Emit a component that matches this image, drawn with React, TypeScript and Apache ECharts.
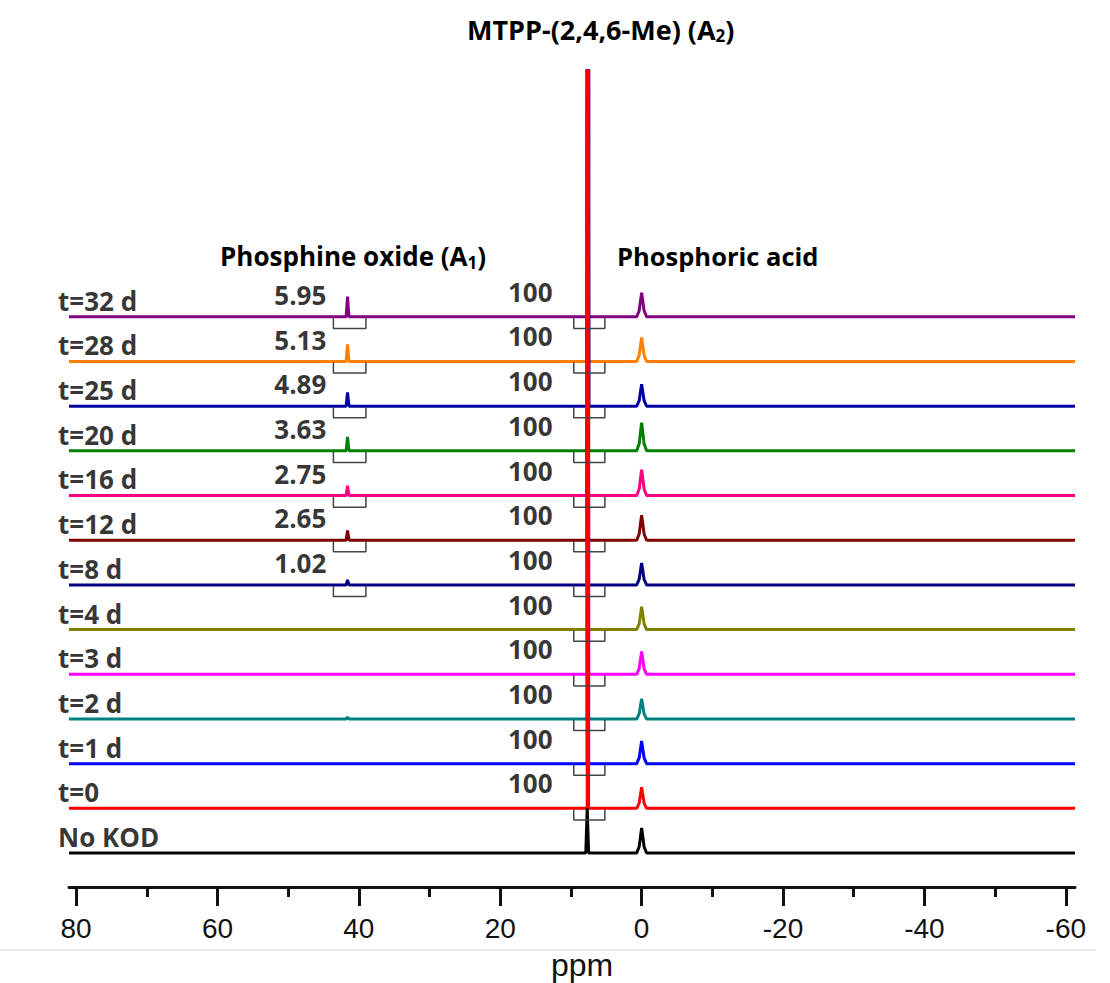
import React, { useEffect, useRef } from 'react';
import * as echarts from 'echarts';

// Rows from bottom (No KOD) to top (t=32 d)
const ROW_LABELS = ['No KOD', 't=0', 't=1 d', 't=2 d', 't=3 d', 't=4 d', 't=8 d', 't=12 d', 't=16 d', 't=20 d', 't=25 d', 't=28 d', 't=32 d'];
const ROW_COLORS = ['#000000', '#FF0000', '#0000FF', '#008080', '#FF00FF', '#808000', '#000080', '#800000', '#FF0080', '#008000', '#0000A0', '#FF8000', '#800080'];

// chemical shifts (ppm)
const OXIDE_SHIFT = 41.6;
const ACID_SHIFT = 0;
const A2_SHIFTS = [7.7, 7.6, 7.6, 7.6, 7.6, 7.6, 7.6, 7.6, 7.65, 7.6, 7.55, 7.7, 7.65];

// peak heights (arbitrary units, row spacing = 10)
const OXIDE_HEIGHTS = [0, 0, 0, 0.4, 0, 0, 1.1, 2.2, 2.2, 3.1, 3.1, 3.8, 4.5];
const A2_HEIGHTS = [10, 400, 400, 400, 400, 400, 400, 400, 400, 400, 400, 400, 400];
const ACID_HEIGHTS = [5.6, 4.7, 5.1, 4.5, 5.1, 5.1, 4.9, 5.6, 5.8, 6.3, 4.9, 5.4, 5.4];

// integrals
const OXIDE_INTEGRALS = ['', '', '', '', '', '', '1.02', '2.65', '2.75', '3.63', '4.89', '5.13', '5.95'];
const A2_INTEGRALS = ['', '100', '100', '100', '100', '100', '100', '100', '100', '100', '100', '100', '100'];
const OXIDE_BRACKET = [43.6, 39.0];
const A2_BRACKET = [9.6, 5.2];

const X_MAX = 81;
const X_MIN = -61.3;
const MAJOR_TICKS = [80, 60, 40, 20, 0, -20, -40, -60];
const MINOR_TICKS = [70, 50, 30, 10, -10, -30, -50];
const ROW_STEP = 10;

// peak profiles: [ppm offset, fraction of height]
const SPIKE_PEAK = [[0.1, 0], [0, 1], [-0.1, 0]];
const NARROW_PEAK = [[0.2, 0], [0, 1], [-0.2, 0]];
const ACID_PEAK = [[0.7, 0], [0.35, 0.25], [0.14, 0.7], [0, 1], [-0.14, 0.7], [-0.35, 0.25], [-0.7, 0]];

const BOLD_FONT = '"Open Sans", "Noto Sans", sans-serif';

function spectrum(i: number): number[][] {
  const off = i * ROW_STEP;
  const pts: number[][] = [[X_MAX, off]];
  const addPeak = (c: number, h: number, prof: number[][]) => {
    if (h <= 0) return;
    prof.forEach(([dx, f]) => pts.push([c + dx, off + h * f]));
  };
  addPeak(OXIDE_SHIFT, OXIDE_HEIGHTS[i], NARROW_PEAK);
  addPeak(A2_SHIFTS[i], A2_HEIGHTS[i], i === 0 ? NARROW_PEAK : SPIKE_PEAK);
  addPeak(ACID_SHIFT, ACID_HEIGHTS[i], ACID_PEAK);
  pts.push([X_MIN, off]);
  return pts;
}

function bracket(i: number, range: number[]): number[][] {
  const off = i * ROW_STEP;
  const top = off - 0.2;
  const bot = off - 2.6;
  return [[range[0], top], [range[0], bot], [range[1], bot], [range[1], top]];
}

export default function App() {
  const ref = useRef<HTMLDivElement>(null);
  useEffect(() => {
    if (!ref.current) return;
    const chart = echarts.init(ref.current, undefined, { renderer: 'svg' });

    const series: any[] = [];
    // draw top rows first so lower rows (red) are on top, black last
    const order = [12, 11, 10, 9, 8, 7, 6, 5, 4, 3, 2, 1, 0];
    order.forEach((i) => {
      series.push({
        type: 'line',
        name: ROW_LABELS[i],
        data: spectrum(i),
        symbol: 'none',
        clip: true,
        lineStyle: { color: ROW_COLORS[i], width: 3 },
        itemStyle: { color: ROW_COLORS[i] },
        z: 3,
        silent: true,
      });
    });
    ROW_LABELS.forEach((_, i) => {
      if (OXIDE_INTEGRALS[i]) {
        series.push({
          type: 'line', data: bracket(i, OXIDE_BRACKET), symbol: 'none',
          lineStyle: { color: '#444', width: 1.5 }, z: 4, silent: true,
        });
      }
      if (A2_INTEGRALS[i]) {
        series.push({
          type: 'line', data: bracket(i, A2_BRACKET), symbol: 'none',
          lineStyle: { color: '#444', width: 1.5 }, z: 4, silent: true,
        });
      }
    });

    const labelBase = {
      show: true,
      position: 'inside',
      color: '#000',
      fontFamily: BOLD_FONT,
      fontWeight: 'bold',
      fontSize: 26,
      formatter: (p: any) => p.name,
    };
    const scatterBase = {
      type: 'scatter',
      symbolSize: 1,
      itemStyle: { color: 'rgba(0,0,0,0)' },
      clip: false,
      silent: true,
      z: 6,
    };
    series.push({
      ...scatterBase,
      data: ROW_LABELS.map((t, i) => ({ name: t, value: [80, i * ROW_STEP + 3.6] })),
      label: { ...labelBase, align: 'left', offset: [-18, 0] },
    });
    series.push({
      ...scatterBase,
      data: OXIDE_INTEGRALS.map((t, i) => ({ name: t, value: [44.6, i * ROW_STEP + 4.9] })).filter((d) => d.name),
      label: { ...labelBase, align: 'right' },
    });
    series.push({
      ...scatterBase,
      data: A2_INTEGRALS.map((t, i) => ({ name: t, value: [12.6, i * ROW_STEP + 5.6] })).filter((d) => d.name),
      label: { ...labelBase, align: 'right' },
    });

    const richBold = (size: number) => ({
      a: { fontSize: size, fontWeight: 'bold', fontFamily: BOLD_FONT, color: '#000', lineHeight: 30 },
      s: { fontSize: 17, fontWeight: 'bold', fontFamily: BOLD_FONT, color: '#000', lineHeight: 17, verticalAlign: 'bottom' },
    });

    chart.setOption({
      animation: false,
      backgroundColor: '#fff',
      grid: { left: 69, right: 35, top: 71, bottom: 96 },
      xAxis: [
        {
          type: 'value', min: X_MIN, max: X_MAX, inverse: true, position: 'bottom',
          axisLine: { show: true, onZero: false, lineStyle: { color: '#111', width: 3 } },
          axisTick: { show: true, customValues: MAJOR_TICKS, length: 19, lineStyle: { color: '#111', width: 3 } },
          axisLabel: { show: true, customValues: MAJOR_TICKS, fontSize: 28, fontFamily: '"Liberation Sans", Arial, sans-serif', color: '#111', margin: 27 },
          splitLine: { show: false },
        },
        {
          type: 'value', min: X_MIN, max: X_MAX, inverse: true, position: 'bottom', offset: 0,
          axisLine: { show: false, onZero: false },
          axisTick: { show: true, customValues: MINOR_TICKS, length: 10, lineStyle: { color: '#111', width: 3 } },
          axisLabel: { show: false },
          splitLine: { show: false },
        },
      ],
      yAxis: { type: 'value', min: -7.6, max: 175, show: false },
      series,
      graphic: [
        {
          type: 'text', x: 467, y: 29,
          style: { text: '{a|MTPP-(2,4,6-Me) (A}{s|2}{a|)}', rich: richBold(27), textVerticalAlign: 'middle', textAlign: 'left' },
        },
        {
          type: 'text', x: 220, y: 256,
          style: { text: '{a|Phosphine oxide (A}{s|1}{a|)}', rich: richBold(26), textVerticalAlign: 'middle', textAlign: 'left' },
        },
        {
          type: 'text', x: 617, y: 256,
          style: { text: '{a|Phosphoric acid}', rich: richBold(25.5), textVerticalAlign: 'middle', textAlign: 'left' },
        },
        {
          type: 'text', x: 582, y: 965,
          style: { text: 'ppm', fontSize: 32, fontFamily: '"Liberation Sans", Arial, sans-serif', fill: '#111', textAlign: 'center', textVerticalAlign: 'middle' },
        },
        {
          type: 'line', shape: { x1: 0, y1: 950, x2: 1096, y2: 950 },
          style: { stroke: '#cfcfcf', lineWidth: 1 },
        },
      ],
    });
    return () => chart.dispose();
  }, []);
  return (
    <div
      ref={ref}
      style={{ position: 'fixed', left: 0, top: 0, width: 1110, height: 983, background: '#fff' }}
    />
  );
}
